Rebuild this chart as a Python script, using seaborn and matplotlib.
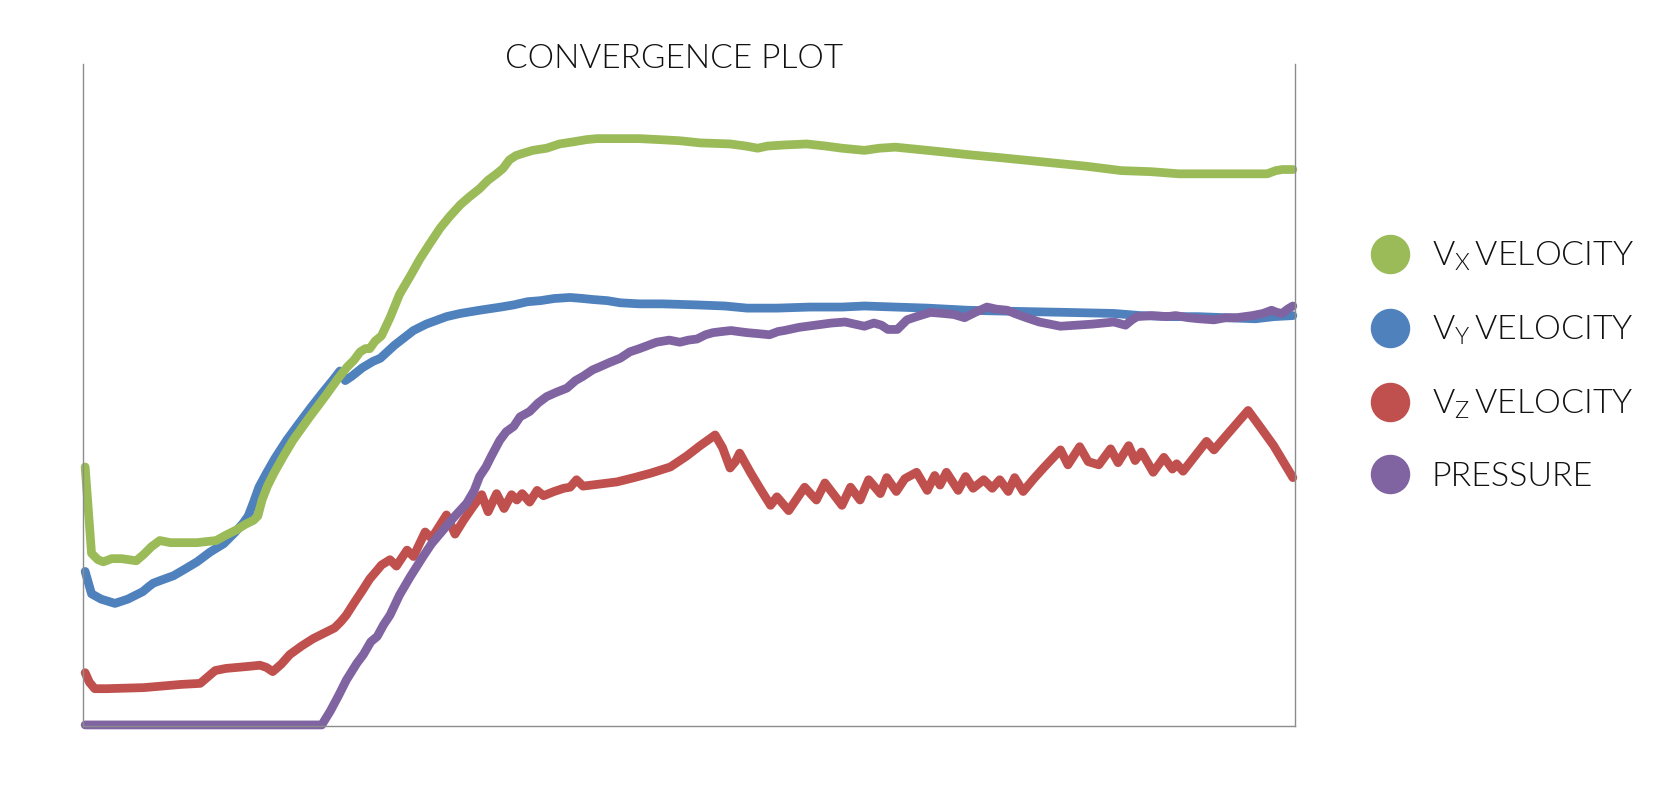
import pandas as pd
import seaborn as sns
import matplotlib
matplotlib.use('Agg')
import matplotlib.pyplot as plt
from matplotlib import font_manager
from matplotlib.lines import Line2D

# iteration / value pairs (value in plot units, 0 = bottom of axis)
vx_iter = [0, 6, 12, 17, 25, 34, 41, 48, 55, 62, 70, 80, 89, 105, 123, 132, 142, 150, 158, 162,
           166, 171, 177, 186, 195, 210, 225, 238, 246, 252, 258, 263, 267, 272, 278, 286, 295, 305, 314, 323,
           333, 342, 352, 360, 370, 378, 386, 392, 398, 404, 410, 420, 433, 445, 458, 470, 480, 500, 520, 540,
           558, 577, 605, 620, 631, 640, 655, 677, 695, 710, 731, 745, 760, 780, 800, 828, 860, 900, 940, 972,
           1000, 1026, 1070, 1109, 1117, 1123, 1133]
vx_val = [243, 162, 156, 154, 157, 157, 156, 155, 161, 168, 174, 172, 172, 172, 174, 179, 184, 189, 193, 197,
          212, 225, 237, 253, 268, 289, 309, 327, 337, 343, 351, 354, 354, 361, 366, 383, 405, 422, 438, 452,
          467, 478, 489, 496, 504, 512, 518, 523, 531, 535, 537, 540, 542, 546, 548, 550, 551, 551, 551, 550,
          549, 547, 546, 544, 542, 544, 545, 546, 544, 542, 540, 542, 543, 541, 539, 536, 533, 529, 525, 521,
          520, 518, 518, 518, 521, 522, 522]

vy_iter = [0, 6, 15, 28, 40, 54, 60, 64, 72, 83, 95, 105, 117, 130, 140, 148, 153, 158, 163, 170,
           178, 189, 200, 212, 223, 232, 239, 242, 244, 250, 260, 270, 277, 290, 308, 320, 339, 352, 370, 390,
           402, 415, 427, 440, 455, 467, 477, 490, 502, 520, 542, 574, 600, 621, 649, 680, 710, 731, 760, 790,
           828, 870, 920, 965, 990, 1020, 1044, 1070, 1098, 1115, 1133]
vy_val = [145, 124, 119, 115, 119, 126, 131, 134, 137, 141, 148, 154, 163, 171, 181, 190, 197, 210, 224, 237,
          251, 268, 283, 299, 313, 324, 333, 329, 324, 328, 336, 342, 345, 357, 371, 377, 384, 387, 390, 393,
          395, 398, 399, 401, 402, 401, 400, 399, 397, 396, 396, 395, 394, 392, 392, 393, 393, 394, 393, 392,
          390, 389, 388, 387, 385, 384, 384, 383, 382, 384, 385]

vz_iter = [0, 4, 9, 20, 55, 90, 108, 115, 122, 132, 154, 164, 170, 176, 184, 192, 203, 214, 224, 234,
           240, 245, 252, 260, 267, 273, 278, 286, 292, 302, 308, 319, 325, 339, 347, 355, 364, 372, 378, 386,
           393, 400, 405, 410, 417, 424, 430, 440, 449, 455, 461, 467, 483, 499, 515, 530, 549, 564, 577, 591,
           598, 605, 610, 614, 624, 633, 643, 649, 660, 675, 686, 694, 710, 718, 727, 735, 746, 752, 761, 769,
           780, 790, 797, 802, 808, 819, 826, 833, 843, 851, 858, 866, 872, 880, 890, 899, 915, 922, 933, 941,
           951, 962, 969, 979, 985, 991, 1002, 1012, 1020, 1024, 1030, 1052, 1059, 1071, 1091, 1102, 1115, 1133]
vz_val = [50, 41, 35, 35, 36, 39, 40, 46, 52, 54, 56, 57, 55, 51, 58, 67, 75, 82, 87, 92,
          98, 104, 115, 127, 138, 145, 151, 156, 150, 165, 159, 182, 176, 198, 180, 193, 206, 217, 201, 218,
          204, 217, 212, 218, 210, 221, 216, 220, 223, 224, 231, 225, 227, 229, 233, 237, 243, 253, 263, 273,
          261, 242, 248, 256, 238, 223, 207, 215, 202, 224, 212, 228, 207, 224, 212, 231, 218, 233, 220, 232,
          238, 221, 235, 226, 238, 221, 234, 223, 231, 223, 231, 220, 233, 220, 232, 242, 259, 245, 262, 248,
          245, 260, 247, 263, 249, 257, 238, 252, 241, 246, 239, 267, 259, 273, 296, 281, 263, 233]

p_iter = [0, 222, 230, 238, 245, 255, 261, 268, 274, 280, 286, 295, 305, 317, 325, 336, 347, 358, 365, 370,
          376, 381, 389, 395, 402, 408, 417, 425, 433, 442, 452, 460, 467, 476, 483, 492, 502, 511, 520, 528,
          536, 548, 558, 566, 574, 582, 589, 597, 606, 613, 621, 632, 642, 650, 656, 670, 685, 700, 713, 722,
          731, 740, 747, 753, 762, 771, 780, 793, 805, 815, 825, 835, 846, 855, 865, 872, 883, 895, 905, 915,
          930, 945, 955, 965, 976, 982, 987, 1000, 1015, 1023, 1035, 1045, 1059, 1070, 1080, 1095, 1105, 1113, 1118, 1123,
          1128, 1133]
p_val = [1, 1, 14, 29, 43, 59, 67, 79, 84, 95, 104, 123, 140, 159, 171, 184, 197, 209, 221, 234,
         243, 253, 268, 276, 281, 290, 295, 303, 309, 313, 317, 324, 328, 334, 337, 341, 345, 351, 354, 357,
         360, 362, 360, 362, 363, 367, 369, 370, 371, 370, 369, 368, 367, 370, 371, 374, 376, 378, 379, 377,
         375, 378, 376, 372, 372, 381, 384, 388, 387, 386, 383, 388, 393, 391, 390, 387, 383, 379, 377, 375,
         376, 377, 378, 379, 376, 381, 384, 385, 384, 385, 383, 382, 381, 383, 383, 385, 387, 390, 388, 387,
         391, 394]

series_names = ['Vx', 'Vy', 'Vz', 'Pressure']
legend_labels = [r'V$_\mathrm{X}\,$VELOCITY', r'V$_\mathrm{Y}\,$VELOCITY',
                 r'V$_\mathrm{Z}\,$VELOCITY', 'PRESSURE']
colors = ['#9BBB59', '#4F81BD', '#C0504D', '#8064A2']
draw_order = ['Vy', 'Vx', 'Vz', 'Pressure']


def build_frame():
    parts = []
    for name, it, val in zip(series_names, [vx_iter, vy_iter, vz_iter, p_iter],
                             [vx_val, vy_val, vz_val, p_val]):
        parts.append(pd.DataFrame({'iteration': it, 'value': val, 'series': name}))
    return pd.concat(parts, ignore_index=True)


def weight_of(entry):
    w = entry.weight
    if isinstance(w, str):
        w = font_manager.weight_dict.get(w, 400)
    return w


def pick_font():
    # prefer a light or narrow face, closest to the thin condensed look of the original
    entries = font_manager.fontManager.ttflist
    names = {f.name for f in entries}
    if 'Liberation Sans Narrow' in names:
        return 'Liberation Sans Narrow', 'normal'
    for fam in ['Lato', 'Open Sans', 'Roboto', 'Inter']:
        if any(f.name == fam and weight_of(f) == 300 for f in entries):
            return fam, 300
    return 'Open Sans', 'normal'


sns.set_theme(style='white')
font, weight = pick_font()
plt.rcParams['font.family'] = [font, 'DejaVu Sans']
plt.rcParams['font.weight'] = weight
plt.rcParams['mathtext.fontset'] = 'custom'
plt.rcParams['mathtext.rm'] = f'{font}:weight={weight}'
plt.rcParams['mathtext.it'] = f'{font}:weight={weight}'

df = build_frame()

fig = plt.figure(figsize=(16.71, 8), dpi=100)
ax = fig.add_axes([83 / 1671, 74 / 800, 1212 / 1671, 662 / 800])

sns.lineplot(data=df, x='iteration', y='value', hue='series', hue_order=draw_order,
             palette=dict(zip(series_names, colors)), linewidth=6.3,
             estimator=None, sort=False, legend=False, ax=ax)
for line in ax.lines:
    line.set_solid_joinstyle('round')
    line.set_solid_capstyle('round')
    line.set_clip_on(False)

ax.set_xlim(-2, 1135)
ax.set_ylim(0, 621)
ax.set_xticks([])
ax.set_yticks([])
ax.set_xlabel('')
ax.set_ylabel('')
ax.spines['top'].set_visible(False)
for side in ['left', 'right', 'bottom']:
    ax.spines[side].set_color('#8c8c8c')
    ax.spines[side].set_linewidth(1)

ax.text(0.488, 1.008, 'CONVERGENCE PLOT', transform=ax.transAxes,
        ha='center', va='center', fontsize=24, color='#111111')

handles = [Line2D([], [], linestyle='none', marker='o', markersize=27.4,
                  markerfacecolor=c, markeredgecolor=c) for c in colors]
ax.legend(handles, legend_labels, loc='center left',
          bbox_to_anchor=(1373 / 1671, 1 - 366 / 800), bbox_transform=fig.transFigure,
          frameon=False, fontsize=24.5, handlelength=1.0, handletextpad=0.72,
          labelspacing=1.2, borderpad=0, borderaxespad=0, labelcolor='#111111')

fig.savefig('out.png', dpi=100, facecolor='white')
